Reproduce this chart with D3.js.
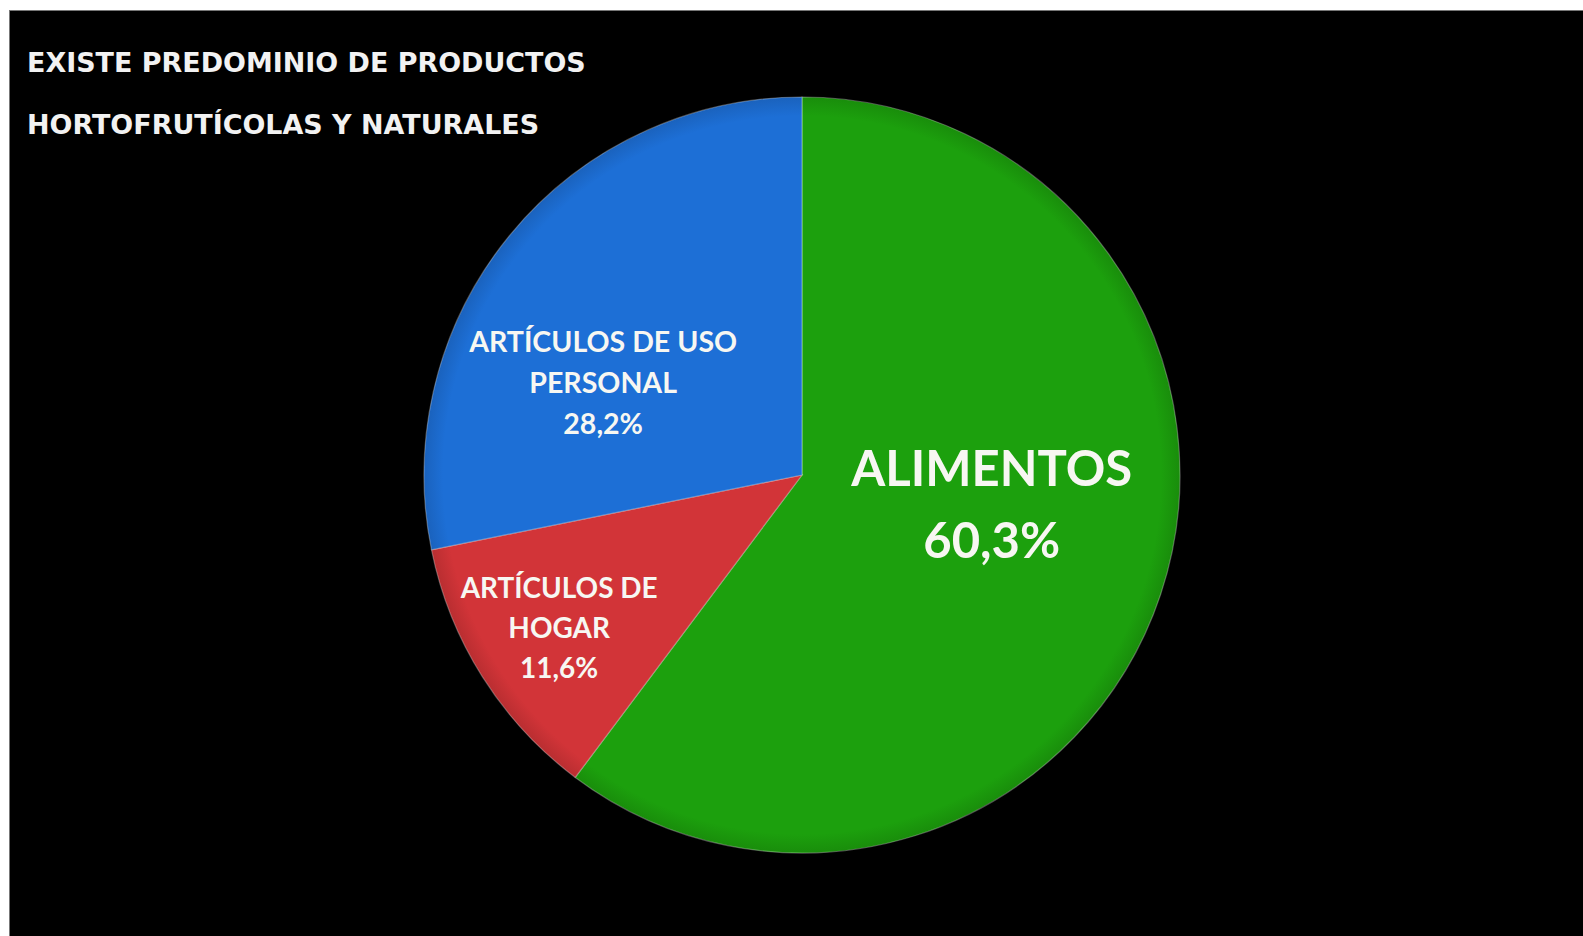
<!DOCTYPE html>
<html><head><meta charset="utf-8">
<script src="https://cdn.jsdelivr.net/npm/d3@7"></script>
<style>html,body{margin:0;padding:0;background:#fff;overflow:hidden}</style>
</head><body>
<svg id="c" width="1583" height="936"></svg>
<script>
const categories = ["ALIMENTOS", "ARTÍCULOS DE HOGAR", "ARTÍCULOS DE USO PERSONAL"];
const values = [60.3, 11.6, 28.2];
const labelLines = [["ALIMENTOS"], ["ARTÍCULOS DE", "HOGAR"], ["ARTÍCULOS DE USO", "PERSONAL"]];
const valueLabels = ["60,3%", "11,6%", "28,2%"];
const titleLines = ["EXISTE PREDOMINIO DE PRODUCTOS", "HORTOFRUTÍCOLAS Y NATURALES"];

const colors = ["#1ca00d", "#d23438", "#1d6fd6"];
const svg = d3.select("#c");
const W = 1583, H = 936;

// frame
svg.append("rect").attr("x", 9).attr("y", 10).attr("width", W - 9).attr("height", H - 10).attr("fill", "#777");
svg.append("rect").attr("x", 10).attr("y", 11).attr("width", W - 10).attr("height", H - 11).attr("fill", "#000");

// title
const titleG = svg.append("g");
titleLines.forEach((t, i) => {
  titleG.append("text").attr("x", 27).attr("y", 72 + i * 62)
    .attr("fill", "#f2f2f2").attr("font-family", "'DejaVu Sans', Verdana, sans-serif")
    .attr("font-weight", "bold").attr("font-size", 22).text(t);
});
(function(){
  const first = titleG.select("text").node();
  const w = first.getComputedTextLength();
  const fs = 22 * 559 / w;
  titleG.selectAll("text").attr("font-size", fs);
})();

const cx = 802, cy = 475, r = 378;
const defs = svg.append("defs");
colors.forEach((c, i) => {
  const g = defs.append("radialGradient").attr("id", "g" + i)
    .attr("gradientUnits", "userSpaceOnUse").attr("cx", 0).attr("cy", 0).attr("r", r);
  g.append("stop").attr("offset", "0%").attr("stop-color", c);
  g.append("stop").attr("offset", "95%").attr("stop-color", c);
  g.append("stop").attr("offset", "100%").attr("stop-color", d3.color(c).darker(0.35).formatHex());
});

const pie = d3.pie().sort(null).value(d => d);
const arcs = pie(values);
const arc = d3.arc().innerRadius(0).outerRadius(r);
const g = svg.append("g").attr("transform", `translate(${cx},${cy})`);
g.selectAll("path").data(arcs).enter().append("path")
  .attr("d", arc).attr("fill", (d, i) => `url(#g${i})`)
  .attr("stroke", "rgba(255,255,255,0.3)").attr("stroke-width", 1.2);

// label layout: angle offset (deg) from slice middle, radius fraction
const labelLayout = [
  {dAng: -9.5, rf: 0.508, fs: 60, target: 281, lh: 72},
  {dAng: 0, rf: 0.76, fs: 27, target: 197, lh: 40},
  {dAng: -14.4, rf: 0.58, fs: 27, target: 268, lh: 41}
];
arcs.forEach((a, i) => {
  const L = labelLayout[i];
  const mid = (a.startAngle + a.endAngle) / 2 + L.dAng * Math.PI / 180;
  const rr = r * L.rf;
  const x = Math.sin(mid) * rr, y = -Math.cos(mid) * rr;
  const lines = labelLines[i].concat([valueLabels[i]]);
  const t = g.append("text").attr("text-anchor", "middle")
    .attr("fill", "#f7f7f2").attr("font-family", "Lato, 'Open Sans', sans-serif")
    .attr("font-weight", "bold").attr("font-size", L.fs);
  const n = lines.length;
  lines.forEach((s, k) => {
    t.append("tspan").attr("x", x).attr("y", y + (k - (n - 1) / 2) * L.lh).attr("dy", "0.35em").text(s);
  });
  const w = t.select("tspan").node().getComputedTextLength();
  t.attr("font-size", L.fs * L.target / w);
});
</script>
</body></html>
